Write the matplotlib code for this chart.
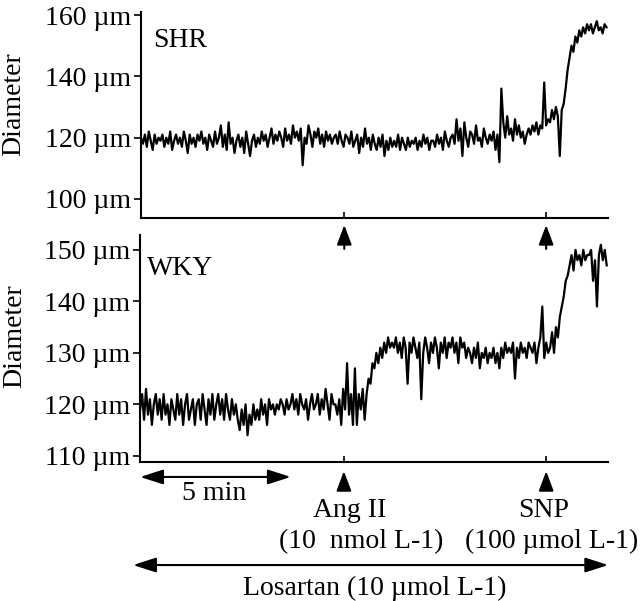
import numpy as np
import matplotlib
matplotlib.use("Agg")
import matplotlib.pyplot as plt

# diameter traces (µm), evenly sampled over the recording
shr_diam = [
    120, 118, 121, 117, 122, 119, 116, 121, 118, 120,
    119, 121, 117, 120, 118, 122, 116, 119, 121, 118,
    120, 117, 122, 119, 115, 121, 118, 120, 117, 121,
    119, 122, 118, 120, 116, 121, 119, 117, 122, 118,
    120, 124, 117, 121, 116, 125, 118, 120, 115, 119,
    121, 117, 120, 115, 122, 118, 114, 119, 121, 117,
    120, 118, 122, 119, 121, 117, 120, 123, 118, 121,
    119, 122, 120, 117, 123, 119, 121, 118, 124, 120,
    122, 119, 123, 111, 120, 118, 124, 121, 117, 122,
    120, 123, 118, 121, 117, 122, 119, 121, 118, 120,
    121, 118, 122, 119, 117, 121, 120, 118, 122, 117,
    119, 121, 115, 120, 117, 123, 118, 120, 116, 121,
    118, 116, 120, 117, 121, 114, 119, 116, 120, 117,
    119, 117, 121, 116, 120, 118, 116, 120, 117, 119,
    118, 120, 116, 119, 117, 121, 118, 120, 116, 119,
    119, 117, 121, 118, 120, 116, 122, 119, 117, 120,
    121, 118, 126, 119, 123, 114, 125, 120, 117, 122,
    121, 118, 124, 119, 120, 117, 123, 120, 118, 121,
    119, 122, 116, 121, 112, 136, 125, 120, 127, 121,
    123, 119, 126, 121, 124, 120, 122, 118, 121, 123,
    121, 124, 122, 125, 121, 124, 123, 138, 124, 126,
    125, 129, 126, 130, 127, 114, 129, 131, 136, 142,
    146, 150, 148, 153, 151, 155, 153, 156, 154, 157,
    155, 157, 154, 156, 158, 155, 156, 154, 157, 156,
]

wky_diam = [
    119, 122, 117, 123, 118, 121, 116, 120, 122, 118,
    121, 117, 122, 118, 120, 116, 121, 119, 117, 122,
    118, 121, 116, 120, 122, 117, 119, 121, 116, 120,
    121, 117, 122, 119, 116, 121, 118, 122, 117, 120,
    122, 118, 121, 117, 122, 119, 117, 121, 118, 120,
    117, 115, 119, 116, 120, 114, 118, 116, 120, 117,
    119, 117, 121, 118, 120, 116, 121, 119, 120, 118,
    120, 119, 121, 120, 118, 121, 119, 120, 122, 119,
    121, 118, 122, 120, 119, 121, 117, 120, 122, 119,
    120, 122, 118, 121, 119, 123, 120, 117, 122, 120,
    120, 118, 121, 116, 123, 119, 128, 118, 122, 116,
    127, 116, 122, 119, 123, 117, 122, 125, 124, 128,
    127, 130, 128, 131, 129, 132, 130, 133, 131, 132,
    131, 133, 130, 132, 129, 133, 131, 124, 132, 130,
    133, 131, 129, 132, 121, 130, 133, 131, 128, 132,
    130, 133, 131, 127, 132, 130, 133, 129, 132, 131,
    133, 130, 132, 128, 133, 131, 132, 129, 131, 130,
    128, 131, 129, 132, 127, 130, 129, 131, 128, 130,
    129, 131, 128, 130, 127, 131, 129, 132, 130, 131,
    130, 132, 125, 131, 129, 132, 130, 131, 129, 132,
    131, 130, 132, 128, 131, 133, 139, 129, 132, 130,
    131, 134, 130, 135, 133, 137, 139, 141, 144, 145,
    147, 149, 146, 150, 148, 149, 147, 150, 148, 149,
    149, 150, 144, 148, 139, 149, 151, 148, 150, 147,
]

t_end = 15.8          # min, length of recording
ang_time = 6.9        # min, Ang II added
snp_time = 13.75      # min, SNP added

shr_ticks = [100, 120, 140, 160]
wky_ticks = [110, 120, 130, 140, 150]

plt.rcParams["font.family"] = ["Liberation Serif", "DejaVu Serif"]
plt.rcParams["font.size"] = 20

t = np.linspace(0, t_end, len(shr_diam))

fig = plt.figure(figsize=(6.4, 6.01), dpi=100)
ax1 = fig.add_axes([0.2203, 0.6373, 0.7297, 0.3428])
ax2 = fig.add_axes([0.2190, 0.2313, 0.7313, 0.3777])
ax2.set_facecolor("none")

ax1.plot(t, shr_diam, color="black", lw=1.6)
ax2.plot(t, wky_diam, color="black", lw=1.6)

ax1.set_ylim(93.8, 161.0)
ax2.set_ylim(108.8, 152.9)

for ax, ticks in [(ax1, shr_ticks), (ax2, wky_ticks)]:
    ax.set_xlim(0, 15.85)
    ax.set_yticks(ticks)
    ax.set_yticklabels([f"{v} µm" for v in ticks])
    ax.set_xticks([ang_time, snp_time])
    ax.set_xticklabels([])
    ax.tick_params(axis="y", direction="out", length=5, width=1.2, pad=2)
    ax.tick_params(axis="x", direction="in", length=4, width=1.2)
    for s in ["top", "right"]:
        ax.spines[s].set_visible(False)
    for s in ["left", "bottom"]:
        ax.spines[s].set_linewidth(1.5)
    ax.set_ylabel("Diameter")

ax1.yaxis.set_label_coords(-0.245, 0.553)
ax2.yaxis.set_label_coords(-0.242, 0.555)

ax1.text(0.026, 0.83, "SHR", transform=ax1.transAxes, va="baseline")
ax2.text(0.015, 0.824, "WKY", transform=ax2.transAxes, va="baseline")

head = dict(arrowstyle="-|>,head_length=1.2,head_width=0.45", color="black",
            lw=1.5, shrinkA=0, shrinkB=0, mutation_scale=10)
both = dict(arrowstyle="<|-|>,head_length=1.4,head_width=0.45", color="black",
            lw=1.5, shrinkA=0, shrinkB=0, mutation_scale=10)

# arrows marking drug additions
for tt in [ang_time, snp_time]:
    ax1.annotate("", xy=(tt, -0.034), xytext=(tt, -0.15),
                 xycoords=ax1.get_xaxis_transform(), arrowprops=head,
                 annotation_clip=False)
    ax2.annotate("", xy=(tt, -0.04), xytext=(tt, -0.12),
                 xycoords=ax2.get_xaxis_transform(), arrowprops=head,
                 annotation_clip=False)

tr = ax2.get_xaxis_transform()
ax2.annotate("", xy=(0, -0.066), xytext=(5.1, -0.066), xycoords=tr,
             arrowprops=both, annotation_clip=False)
ax2.text(2.5, -0.137, "5 min", transform=tr, ha="center", va="center")

ax2.text(7.1, -0.242, "Ang II", transform=tr, ha="center", va="baseline")
ax2.text(7.5, -0.379, "(10  nmol L-1)", transform=tr, ha="center", va="baseline")
ax2.text(13.65, -0.242, "SNP", transform=tr, ha="center", va="baseline")
ax2.text(13.95, -0.379, "(100 µmol L-1)", transform=tr, ha="center", va="baseline")

ax2.annotate("", xy=(-0.24, -0.454), xytext=(15.85, -0.454), xycoords=tr,
             arrowprops=both, annotation_clip=False)
ax2.text(7.93, -0.586, "Losartan (10 µmol L-1)", transform=tr,
         ha="center", va="baseline")

fig.savefig("out.png", dpi=100)
